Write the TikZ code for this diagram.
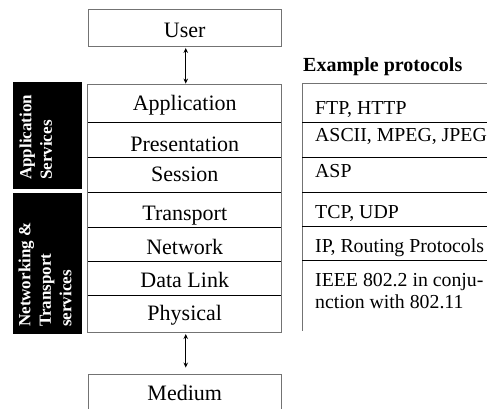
\documentclass[tikz,border=0pt]{standalone}
\usepackage{fontspec}
\setmainfont{Liberation Serif}
\usetikzlibrary{arrows.meta}
\tikzset{
  box/.style={draw=black!55, line width=0.9pt, inner sep=0pt, minimum width=193.5pt},
  rowbox/.style={inner sep=0pt, minimum width=193.5pt},
  layertext/.style={anchor=base, inner sep=0pt, font=\fontsize{22}{26}\selectfont},
  prototext/.style={anchor=base west, inner sep=0pt, font=\fontsize{19.8}{22}\selectfont},
  sep/.style={draw=black, line width=0.9pt},
  blackbox/.style={fill=black, draw=none, inner sep=0pt, minimum width=69pt},
  servtext/.style={rotate=90, anchor=north west, inner sep=0pt, align=left, text=white,
    font=\fontsize{17}{20.5}\selectfont\bfseries},
  updown/.style={{Stealth[length=5pt,width=4.5pt]}-{Stealth[length=5pt,width=4.5pt]}, line width=0.9pt}
}
\begin{document}
\begin{tikzpicture}[x=1pt,y=-1pt]
\useasboundingbox (0,0) rectangle (487,409);

% User and Medium boxes
\node[box, minimum height=36.7pt] (user) at (184.75,27.65) {};
\node[layertext] (userT) at (184.75,37.3) {User};
\node[box, minimum height=40pt] (medium) at (184.75,394) {};
\node[layertext] (mediumT) at (184.75,400) {Medium};

% Stack rows
\node[rowbox, minimum height=37.7pt] (app) at (184.75,103.15) {};
\node[rowbox, minimum height=35pt] (pres) at (184.75,139.5) {};
\node[rowbox, minimum height=35pt] (sess) at (184.75,174.5) {};
\node[rowbox, minimum height=35pt] (trans) at (184.75,209.5) {};
\node[rowbox, minimum height=34pt] (net) at (184.75,244) {};
\node[rowbox, minimum height=34pt] (dl) at (184.75,278) {};
\node[rowbox, minimum height=37.3pt] (phys) at (184.75,313.65) {};
\draw[sep] (app.south west) -- (app.south east);
\draw[sep] (pres.south west) -- (pres.south east);
\draw[sep] (sess.south west) -- (sess.south east);
\draw[sep] (trans.south west) -- (trans.south east);
\draw[sep] (net.south west) -- (net.south east);
\draw[sep] (dl.south west) -- (dl.south east);
\draw[draw=black!55, line width=0.9pt] (app.north west) rectangle (phys.south east);

\node[layertext] (appT) at (184.75,111) {Application};
\node[layertext] (presT) at (184.75,151.7) {Presentation};
\node[layertext] (sessT) at (184.75,181.5) {Session};
\node[layertext] (transT) at (184.75,220) {Transport};
\node[layertext] (netT) at (184.75,254) {Network};
\node[layertext] (dlT) at (184.75,287) {Data Link};
\node[layertext] (physT) at (184.75,320) {Physical};

% Arrows
\draw[updown] ([xshift=1pt,yshift=-1.5pt]user.south) -- ([xshift=1pt,yshift=0.5pt]app.north);
\draw[updown] ([xshift=1pt,yshift=-1.5pt]phys.south) -- ([xshift=1pt,yshift=6pt]medium.north);

% Service blocks
\node[blackbox, minimum height=107pt] (appserv) at (47.8,135.5) {};
\node[servtext] (appservT) at (19.5,180) {Application\\Services};
\node[blackbox, minimum height=141pt] (netserv) at (47.8,263.5) {};
\node[servtext] (netservT) at (18.5,327) {Networking \&\\Transport\\services};

% Example protocols
\node[anchor=base west, inner sep=0pt, font=\fontsize{20}{24}\selectfont\bfseries] (exT) at (303,71.7) {Example protocols};
\coordinate (pTop) at (302,83.3);
\coordinate (pBot) at (302,331);
\coordinate (pTopR) at (492,83.3);
\draw[draw=black!55, line width=0.9pt] (pTopR) -- (pTop) -- (pBot);
\foreach \yy/\nm in {122/a,157/b,192/c,226/d,260/e}{
  \coordinate (pl\nm) at (302,\yy);
  \coordinate (pr\nm) at (492,\yy);
  \draw[sep] (pl\nm) -- (pr\nm);
}
\node[prototext] (p1) at (315,115) {FTP, HTTP};
\node[prototext] (p2) at (315,142) {ASCII, MPEG, JPEG};
\node[prototext] (p3) at (315,177) {ASP};
\node[prototext] (p4) at (315,218) {TCP, UDP};
\node[prototext] (p5) at (315,252) {IP, Routing Protocols};
\node[prototext] (p6a) at (315,286.5) {IEEE 802.2 in conju-};
\node[prototext] (p6b) at (315,308.5) {nction with 802.11};
\end{tikzpicture}
\end{document}
